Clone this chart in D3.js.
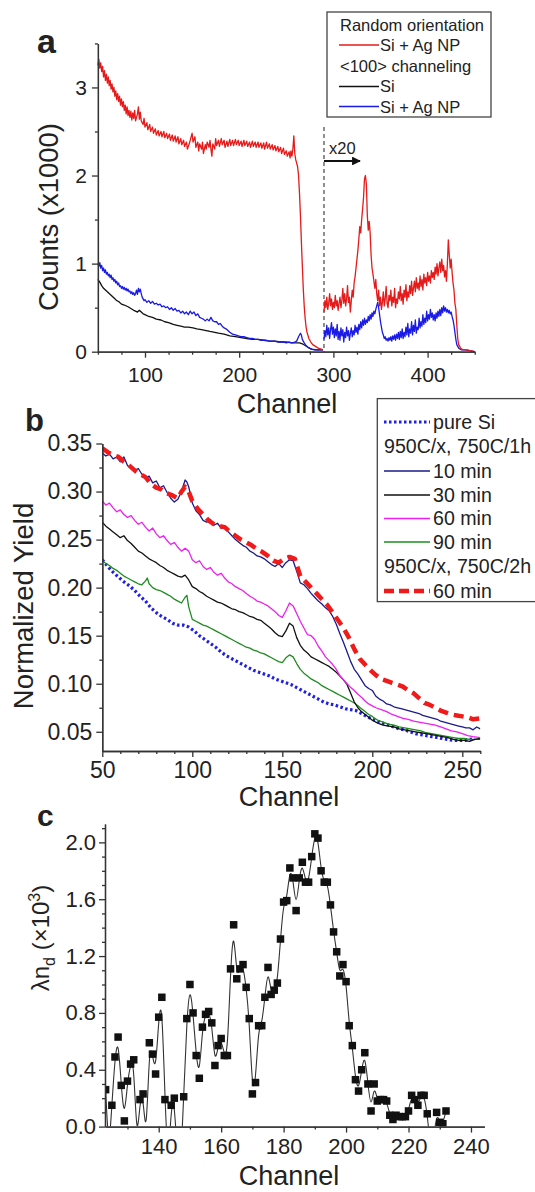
<!DOCTYPE html>
<html>
<head>
<meta charset="utf-8">
<script src="https://cdn.jsdelivr.net/npm/d3@7"></script>
<style>
body{margin:0;background:#fff;}
svg text{font-family:"Liberation Sans",Arial,sans-serif;fill:#222;}
.axis path,.axis line{stroke:#333;stroke-width:1.3;}
</style>
</head>
<body>
<svg id="fig" width="535" height="1192"></svg>
<script>
// ---------- panel a : RBS spectra, counts (x1000) vs channel ----------
var aRandomAgNP = [[50,3.25],[51,3.32],[52,3.22],[53,3.28],[54,3.18],[55,3.24],[56,3.12],[57,3.19],[58,3.08],[59,3.15],[60,3.05],[61,3.12],[62,3.02],[63,3.08],[64,2.98],[65,3.04],[66,2.95],[67,3.00],[68,2.90],[69,2.96],[70,2.86],[71,2.93],[72,2.84],[73,2.90],[74,2.80],[75,2.87],[76,2.78],[77,2.84],[78,2.74],[79,2.80],[80,2.70],[81,2.78],[82,2.68],[83,2.74],[84,2.66],[85,2.73],[86,2.63],[87,2.71],[88,2.65],[89,2.74],[90,2.62],[92,2.70],[93,2.78],[94,2.64],[95,2.72],[96,2.62],[98,2.58],[99,2.65],[100,2.55],[102,2.60],[103,2.52],[105,2.58],[106,2.50],[108,2.55],[109,2.48],[111,2.53],[112,2.46],[114,2.51],[115,2.45],[117,2.50],[118,2.44],[120,2.50],[121,2.43],[123,2.48],[124,2.42],[126,2.47],[127,2.40],[129,2.46],[130,2.39],[132,2.45],[133,2.38],[135,2.44],[136,2.36],[138,2.42],[139,2.35],[141,2.40],[142,2.33],[144,2.38],[145,2.30],[147,2.36],[148,2.40],[150,2.48],[151,2.38],[153,2.44],[154,2.32],[156,2.38],[157,2.28],[158,2.36],[160,2.30],[161,2.38],[162,2.25],[164,2.35],[165,2.30],[166,2.38],[168,2.32],[169,2.40],[170,2.30],[171,2.22],[172,2.36],[174,2.30],[175,2.42],[176,2.34],[178,2.40],[179,2.33],[181,2.42],[182,2.35],[184,2.40],[185,2.32],[187,2.39],[188,2.33],[190,2.41],[191,2.34],[193,2.40],[194,2.34],[196,2.41],[197,2.35],[199,2.40],[200,2.34],[202,2.39],[203,2.33],[205,2.40],[206,2.34],[208,2.39],[209,2.33],[211,2.38],[212,2.32],[214,2.39],[215,2.33],[217,2.38],[218,2.32],[220,2.38],[221,2.32],[223,2.37],[224,2.31],[226,2.37],[227,2.30],[229,2.38],[230,2.31],[232,2.36],[233,2.30],[235,2.35],[236,2.29],[238,2.34],[239,2.28],[241,2.33],[242,2.27],[244,2.32],[245,2.25],[247,2.31],[248,2.24],[250,2.28],[251,2.22],[253,2.27],[254,2.20],[255,2.28],[256,2.22],[257,2.30],[258,2.45],[259,2.25],[260,2.18],[261,2.14],[262,2.10],[263,2.00],[264,1.80],[265,1.55],[266,1.25],[267,0.98],[268,0.72],[269,0.52],[270,0.38],[271,0.28],[272,0.22],[274,0.15],[276,0.11],[278,0.08],[281,0.06],[284,0.04],[287,0.03],[289,0.02]];
var aRandomAgNPx20 = [[290,0.45],[291,0.58],[292,0.50],[293,0.62],[294,0.48],[295,0.55],[296,0.66],[297,0.52],[298,0.60],[299,0.48],[300,0.56],[301,0.50],[302,0.64],[303,0.52],[304,0.58],[305,0.47],[306,0.55],[307,0.62],[308,0.50],[309,0.58],[310,0.72],[311,0.55],[312,0.66],[313,0.52],[314,0.60],[315,0.75],[316,0.56],[317,0.62],[318,0.45],[319,0.58],[320,0.70],[321,0.62],[322,0.78],[323,0.85],[324,0.95],[325,1.05],[326,1.15],[327,1.28],[328,1.42],[329,1.35],[330,1.50],[331,1.62],[332,1.75],[333,1.96],[334,2.00],[335,1.90],[336,1.55],[337,1.38],[338,1.48],[339,1.35],[340,1.10],[341,0.95],[342,0.88],[343,0.80],[344,0.72],[345,0.82],[346,0.66],[347,0.58],[348,0.70],[349,0.52],[350,0.62],[351,0.48],[352,0.56],[353,0.68],[354,0.52],[355,0.60],[356,0.74],[357,0.55],[358,0.50],[359,0.64],[360,0.58],[361,0.70],[362,0.52],[363,0.62],[364,0.56],[365,0.72],[366,0.50],[367,0.60],[368,0.55],[369,0.68],[370,0.60],[371,0.74],[372,0.58],[373,0.66],[374,0.54],[375,0.70],[376,0.62],[377,0.76],[378,0.58],[379,0.68],[380,0.62],[381,0.75],[382,0.66],[383,0.80],[384,0.64],[385,0.72],[386,0.80],[387,0.68],[388,0.84],[389,0.72],[390,0.78],[391,0.70],[392,0.86],[393,0.74],[394,0.82],[395,0.70],[396,0.88],[397,0.78],[398,0.84],[399,0.75],[400,0.90],[401,0.80],[402,0.86],[403,0.78],[404,0.92],[405,0.84],[406,0.90],[407,0.82],[408,0.96],[409,0.88],[410,1.00],[411,0.86],[412,0.95],[413,1.02],[414,0.90],[415,1.05],[416,0.92],[417,0.98],[418,0.85],[419,0.92],[420,0.80],[421,1.00],[422,1.27],[423,1.10],[424,0.95],[425,1.05],[426,0.90],[427,0.78],[428,0.70],[429,0.55],[430,0.48],[431,0.30],[432,0.15],[433,0.08],[435,0.04],[438,0.02],[442,0.02],[446,0.01],[450,0.0]];
var aChanSi = [[50,0.82],[52,0.79],[54,0.75],[56,0.72],[58,0.70],[60,0.68],[62,0.66],[64,0.64],[66,0.62],[68,0.60],[70,0.58],[72,0.57],[75,0.54],[78,0.53],[82,0.51],[85,0.49],[88,0.47],[90,0.46],[92,0.45],[94,0.47],[96,0.45],[98,0.43],[100,0.42],[104,0.40],[108,0.39],[112,0.37],[117,0.36],[121,0.34],[125,0.33],[130,0.31],[134,0.30],[138,0.29],[142,0.28],[146,0.28],[151,0.27],[155,0.26],[160,0.25],[165,0.24],[169,0.23],[174,0.22],[178,0.21],[184,0.20],[190,0.18],[196,0.17],[202,0.16],[208,0.15],[214,0.14],[220,0.14],[226,0.13],[232,0.12],[238,0.12],[244,0.11],[250,0.11],[256,0.10],[261,0.10],[264,0.10],[267,0.09],[270,0.07],[273,0.05],[277,0.03],[282,0.02],[289,0.02]];
var aChanAgNP = [[50,1.00],[51,0.97],[52,1.01],[53,0.95],[54,0.98],[55,0.92],[56,0.95],[57,0.90],[58,0.93],[59,0.88],[60,0.90],[61,0.86],[62,0.88],[63,0.84],[64,0.87],[65,0.82],[66,0.84],[67,0.80],[68,0.82],[69,0.78],[70,0.80],[71,0.76],[72,0.78],[73,0.74],[74,0.75],[75,0.72],[76,0.74],[77,0.71],[78,0.73],[79,0.70],[80,0.72],[81,0.69],[82,0.71],[83,0.68],[84,0.69],[85,0.66],[86,0.68],[87,0.65],[88,0.67],[89,0.64],[90,0.66],[91,0.70],[92,0.65],[93,0.72],[94,0.68],[95,0.71],[96,0.66],[97,0.62],[98,0.60],[99,0.58],[100,0.59],[102,0.56],[104,0.58],[106,0.55],[108,0.57],[110,0.54],[112,0.55],[114,0.53],[116,0.54],[118,0.51],[120,0.52],[122,0.50],[124,0.51],[126,0.48],[128,0.50],[130,0.47],[132,0.49],[134,0.46],[136,0.47],[138,0.44],[140,0.46],[142,0.43],[144,0.45],[146,0.42],[148,0.46],[150,0.43],[152,0.45],[154,0.41],[156,0.43],[158,0.39],[160,0.38],[162,0.37],[164,0.35],[166,0.37],[168,0.35],[170,0.39],[172,0.35],[174,0.34],[176,0.34],[178,0.31],[180,0.32],[182,0.29],[184,0.27],[186,0.26],[188,0.24],[190,0.22],[193,0.20],[196,0.19],[199,0.18],[202,0.17],[205,0.17],[208,0.16],[211,0.15],[214,0.15],[217,0.14],[220,0.14],[223,0.13],[226,0.13],[229,0.13],[232,0.12],[235,0.12],[238,0.12],[241,0.11],[244,0.11],[247,0.11],[250,0.10],[253,0.11],[256,0.10],[259,0.11],[261,0.12],[263,0.17],[265,0.21],[266,0.19],[267,0.14],[269,0.10],[271,0.07],[273,0.05],[276,0.03],[280,0.02],[285,0.02],[289,0.02]];
var aChanAgNPx20 = [[290,0.14],[291,0.24],[292,0.17],[293,0.30],[294,0.19],[295,0.27],[296,0.15],[297,0.25],[298,0.33],[299,0.20],[300,0.28],[301,0.16],[302,0.26],[303,0.18],[304,0.31],[305,0.14],[306,0.23],[307,0.13],[308,0.27],[309,0.18],[310,0.25],[311,0.11],[312,0.22],[313,0.16],[314,0.28],[315,0.18],[316,0.24],[317,0.13],[318,0.21],[319,0.27],[320,0.17],[321,0.24],[322,0.19],[323,0.30],[324,0.22],[325,0.28],[326,0.20],[327,0.31],[328,0.25],[329,0.34],[330,0.27],[331,0.36],[332,0.30],[333,0.38],[334,0.31],[335,0.36],[336,0.33],[337,0.40],[338,0.35],[339,0.42],[340,0.37],[341,0.44],[342,0.40],[343,0.46],[344,0.43],[345,0.48],[346,0.52],[347,0.56],[348,0.50],[349,0.42],[350,0.34],[351,0.28],[352,0.22],[353,0.19],[354,0.15],[355,0.17],[356,0.13],[357,0.15],[358,0.12],[359,0.16],[360,0.13],[361,0.17],[362,0.12],[363,0.18],[364,0.14],[365,0.19],[366,0.13],[367,0.20],[368,0.15],[369,0.22],[370,0.14],[371,0.23],[372,0.16],[373,0.26],[374,0.15],[375,0.22],[376,0.17],[377,0.28],[378,0.19],[379,0.32],[380,0.17],[381,0.26],[382,0.21],[383,0.34],[384,0.19],[385,0.30],[386,0.23],[387,0.36],[388,0.21],[389,0.28],[390,0.25],[391,0.38],[392,0.27],[393,0.34],[394,0.29],[395,0.42],[396,0.31],[397,0.38],[398,0.33],[399,0.46],[400,0.35],[401,0.42],[402,0.37],[403,0.48],[404,0.39],[405,0.44],[406,0.36],[407,0.42],[408,0.35],[409,0.44],[410,0.38],[411,0.46],[412,0.40],[413,0.48],[414,0.41],[415,0.50],[416,0.44],[417,0.52],[418,0.46],[419,0.50],[420,0.45],[421,0.48],[422,0.44],[423,0.47],[424,0.43],[425,0.45],[426,0.40],[427,0.36],[428,0.30],[429,0.22],[430,0.14],[431,0.08],[433,0.04],[436,0.02],[440,0.02],[446,0.01],[450,0.0]];
var aXMajor = [100,200,300,400];
var aXMinor = [50,75,125,150,175,225,250,275,325,350,375,425,450];
var aYMajor = [0,1,2,3];
var aYMinor = [0.5,1.5,2.5,3.5];
var aX20Channel = 290;

// ---------- panel b : normalized yield vs channel ----------
var bPureSi = [[50,.229],[53,.222],[56,.216],[59,.211],[62,.206],[65,.202],[68,.197],[71,.191],[74,.186],[77,.179],[80,.174],[83,.170],[86,.167],[89,.163],[92,.161],[95,.161],[98,.159],[101,.155],[104,.150],[107,.146],[110,.142],[113,.138],[116,.133],[119,.129],[122,.126],[125,.123],[128,.120],[131,.117],[134,.114],[137,.112],[140,.110],[143,.108],[146,.105],[149,.103],[152,.101],[155,.099],[158,.096],[161,.093],[164,.090],[167,.087],[170,.084],[173,.081],[176,.079],[179,.078],[182,.076],[185,.074],[188,.073],[191,.072],[194,.069],[197,.066],[200,.063],[203,.061],[206,.059],[209,.057],[212,.055],[215,.053],[218,.052],[221,.050],[224,.048],[227,.047],[230,.046],[233,.045],[236,.044],[239,.043],[242,.042],[245,.041],[248,.041],[251,.041],[254,.042],[257,.043]];
var b1h10 = [[50,.340],[52,.337],[54,.339],[56,.334],[58,.336],[60,.331],[62,.336],[64,.327],[66,.325],[68,.322],[70,.324],[72,.318],[74,.314],[76,.316],[78,.309],[80,.311],[82,.304],[84,.306],[86,.299],[88,.293],[90,.289],[92,.292],[94,.300],[96,.312],[97,.310],[98,.305],[100,.288],[102,.280],[104,.276],[106,.270],[108,.268],[110,.271],[112,.265],[114,.267],[116,.262],[118,.263],[120,.258],[122,.254],[124,.250],[126,.247],[128,.244],[130,.242],[132,.238],[134,.236],[136,.233],[138,.232],[140,.230],[142,.227],[144,.224],[146,.222],[148,.225],[150,.221],[152,.226],[154,.229],[156,.228],[158,.217],[160,.205],[162,.203],[164,.199],[166,.194],[168,.190],[170,.186],[172,.183],[174,.179],[176,.176],[178,.170],[180,.162],[182,.152],[184,.143],[186,.133],[188,.123],[190,.115],[192,.110],[194,.104],[196,.098],[198,.095],[200,.093],[202,.087],[204,.084],[206,.082],[208,.079],[210,.078],[212,.076],[214,.075],[216,.074],[218,.073],[220,.072],[222,.071],[224,.070],[226,.069],[228,.067],[230,.066],[232,.065],[234,.064],[236,.063],[238,.061],[240,.060],[242,.059],[244,.058],[246,.057],[248,.056],[250,.055],[252,.054],[254,.054],[256,.052],[258,.055],[260,.053]];
var b1h30 = [[50,.268],[52,.264],[54,.261],[56,.258],[58,.255],[60,.252],[62,.254],[64,.249],[66,.246],[68,.242],[70,.238],[72,.236],[74,.233],[76,.230],[78,.228],[80,.226],[82,.223],[84,.221],[86,.218],[88,.216],[90,.214],[92,.212],[94,.211],[96,.213],[98,.208],[100,.201],[102,.199],[104,.196],[106,.194],[108,.191],[110,.189],[112,.187],[114,.185],[116,.184],[118,.182],[120,.180],[122,.178],[124,.177],[126,.175],[128,.174],[130,.172],[132,.170],[134,.169],[136,.167],[138,.166],[140,.163],[142,.160],[144,.157],[146,.153],[148,.150],[150,.149],[152,.155],[154,.163],[156,.160],[158,.148],[160,.140],[162,.135],[164,.132],[166,.128],[168,.126],[170,.124],[172,.122],[174,.120],[176,.118],[178,.115],[180,.112],[182,.108],[184,.104],[186,.099],[188,.090],[190,.081],[192,.075],[194,.071],[196,.068],[198,.065],[200,.062],[203,.059],[206,.057],[209,.056],[212,.055],[215,.053],[218,.052],[221,.051],[224,.050],[227,.049],[230,.048],[233,.047],[236,.046],[239,.045],[242,.044],[245,.042],[248,.041],[251,.041],[254,.040],[257,.042],[260,.043]];
var b1h60 = [[50,.290],[52,.286],[54,.288],[56,.283],[58,.279],[60,.281],[62,.276],[64,.273],[66,.275],[68,.270],[70,.266],[72,.268],[74,.263],[76,.259],[78,.262],[80,.256],[82,.252],[84,.254],[86,.249],[88,.245],[90,.247],[92,.242],[94,.238],[96,.241],[98,.238],[100,.229],[102,.226],[104,.228],[106,.222],[108,.219],[110,.221],[112,.216],[114,.213],[116,.215],[118,.210],[120,.206],[122,.204],[124,.201],[126,.199],[128,.197],[130,.194],[132,.191],[134,.189],[136,.186],[138,.185],[140,.183],[142,.181],[144,.178],[146,.175],[148,.171],[150,.169],[152,.176],[154,.184],[156,.181],[158,.173],[160,.165],[162,.158],[164,.151],[166,.150],[168,.146],[170,.139],[172,.134],[174,.128],[176,.124],[178,.120],[180,.115],[182,.108],[184,.104],[186,.100],[188,.096],[190,.093],[192,.089],[194,.086],[196,.082],[198,.079],[200,.077],[202,.075],[205,.073],[208,.071],[211,.068],[214,.066],[217,.064],[220,.063],[223,.061],[226,.060],[229,.059],[232,.058],[235,.057],[238,.055],[241,.053],[244,.051],[247,.050],[250,.048],[253,.046],[256,.045],[260,.044]];
var b1h90 = [[50,.228],[52,.225],[54,.223],[56,.220],[58,.218],[60,.215],[62,.212],[64,.210],[66,.208],[68,.206],[70,.204],[72,.203],[74,.207],[75,.210],[76,.204],[78,.200],[80,.198],[82,.197],[84,.195],[86,.193],[88,.191],[90,.188],[92,.186],[94,.184],[96,.190],[97,.192],[98,.180],[100,.167],[102,.165],[104,.163],[106,.161],[108,.160],[110,.158],[112,.156],[114,.154],[116,.152],[118,.150],[120,.148],[122,.146],[124,.144],[126,.142],[128,.140],[130,.138],[132,.137],[134,.135],[136,.134],[138,.132],[140,.131],[142,.129],[144,.127],[146,.125],[148,.123],[150,.122],[152,.127],[154,.130],[156,.128],[158,.121],[160,.115],[162,.111],[164,.108],[166,.105],[168,.103],[170,.101],[172,.098],[174,.096],[176,.094],[178,.092],[180,.090],[182,.088],[184,.086],[186,.084],[188,.082],[190,.080],[192,.077],[194,.074],[196,.071],[198,.068],[200,.066],[203,.062],[206,.060],[209,.058],[212,.057],[215,.055],[218,.054],[221,.053],[224,.052],[227,.051],[230,.049],[233,.048],[236,.047],[239,.046],[242,.045],[245,.044],[248,.043],[251,.043],[254,.042],[257,.042],[260,.042]];
var b2h60 = [[50,.345],[53,.341],[56,.338],[59,.336],[62,.331],[65,.327],[68,.322],[71,.318],[74,.315],[77,.308],[80,.304],[83,.302],[86,.298],[89,.296],[92,.293],[94,.300],[96,.305],[98,.300],[100,.290],[103,.282],[106,.276],[109,.270],[112,.266],[115,.264],[118,.263],[121,.258],[124,.254],[127,.250],[130,.247],[133,.244],[136,.240],[139,.237],[142,.233],[145,.228],[148,.226],[151,.230],[154,.232],[157,.230],[160,.212],[163,.206],[166,.200],[169,.194],[172,.188],[175,.182],[178,.174],[181,.166],[184,.158],[187,.148],[190,.136],[193,.126],[196,.120],[199,.114],[202,.109],[205,.105],[208,.103],[211,.101],[214,.099],[217,.097],[220,.093],[223,.090],[226,.085],[229,.080],[232,.078],[235,.075],[238,.072],[241,.070],[244,.068],[247,.067],[250,.066],[253,.065],[256,.063],[260,.064]];
var bXMajor = [50,100,150,200,250];
var bXMinor = [60,70,80,90,110,120,130,140,160,170,180,190,210,220,230,240,260];
var bYMajor = [0.05,0.10,0.15,0.20,0.25,0.30,0.35];
var bYMinor = [0.075,0.125,0.175,0.225,0.275,0.325];

// ---------- panel c : lambda n_d vs channel ----------
var cChannel = [123,124,125,126,127,128,129,130,131,132,133,134,135,136,137,138,139,140,141,142,143,144,145,146,147,148,149,150,151,152,153,154,155,156,157,158,159,160,161,162,163,164,165,166,167,168,169,170,171,172,173,174,175,176,177,178,179,180,181,182,183,184,185,186,187,188,189,190,191,192,193,194,195,196,197,198,199,200,201,202,203,204,205,206,207,208,209,210,211,212,213,214,215,216,217,218,219,220,221,222,223,224,225,226,227,228,229,230,231,232];
var cValue = [0.26,-0.20,0.15,0.49,0.63,0.29,0.04,0.32,0.44,0.47,-0.14,0.19,0.23,-0.13,0.59,0.51,0.37,0.77,0.91,0.19,-0.30,0.15,0.20,-0.25,-0.30,0.21,0.76,1.00,0.80,0.50,0.34,0.70,0.79,0.81,0.73,0.43,0.57,0.62,0.50,0.50,1.11,1.42,1.04,1.11,1.14,0.98,0.76,0.23,0.31,0.71,0.71,0.91,1.12,0.93,0.96,1.01,1.32,1.58,1.59,1.82,1.75,1.52,1.75,1.86,1.72,1.72,1.90,2.06,2.03,1.80,1.72,1.72,1.56,1.37,1.23,1.06,1.14,1.02,0.71,0.57,0.33,0.25,0.40,0.52,0.30,0.11,0.30,0.18,0.19,0.19,0.18,0.08,0.05,0.08,0.07,0.07,0.07,0.11,0.22,0.19,0.15,0.22,0.22,0.09,-0.15,-0.10,0.10,0.03,0.02,0.11];
var cXMajor = [140,160,180,200,220,240];
var cXMinor = [130,150,170,190,210,230];
var cYMajor = [0,0.4,0.8,1.2,1.6,2.0];
var cYMinor = [0.1,0.2,0.3,0.5,0.6,0.7,0.9,1.0,1.1,1.3,1.4,1.5,1.7,1.8,1.9,2.1];

var svg = d3.select("#fig");

function drawAxes(x, y, xMajor, xMinor, yMajor, yMinor, xFmt, yFmt, fs, xPad, yPad) {
  var y0 = y.range()[0], x0 = x.range()[0];
  svg.append("g").attr("class","axis").attr("transform","translate(0,"+y0+")")
    .call(d3.axisBottom(x).tickValues(xMinor).tickSize(3).tickSizeOuter(0).tickFormat(""));
  var gx = svg.append("g").attr("class","axis").attr("transform","translate(0,"+y0+")")
    .call(d3.axisBottom(x).tickValues(xMajor).tickSize(6).tickSizeOuter(0).tickPadding(xPad).tickFormat(xFmt));
  svg.append("g").attr("class","axis").attr("transform","translate("+x0+",0)")
    .call(d3.axisLeft(y).tickValues(yMinor).tickSize(3).tickSizeOuter(0).tickFormat(""));
  var gy = svg.append("g").attr("class","axis").attr("transform","translate("+x0+",0)")
    .call(d3.axisLeft(y).tickValues(yMajor).tickSize(6).tickSizeOuter(0).tickPadding(yPad).tickFormat(yFmt));
  gx.selectAll("text").style("font-size",fs+"px").attr("fill","#222");
  gy.selectAll("text").style("font-size",fs+"px").attr("fill","#222");
}

function clipFor(id, x, y) {
  svg.append("clipPath").attr("id",id).append("rect")
    .attr("x",x.range()[0]).attr("y",y.range()[1])
    .attr("width",x.range()[1]-x.range()[0]).attr("height",y.range()[0]-y.range()[1]);
}

// ================= panel a =================
var xa = d3.scaleLinear().domain([50,450]).range([97.9,474.7]);
var ya = d3.scaleLinear().domain([0,3.5]).range([351.7,43.4]);
var lineA = d3.line().x(function(d){return xa(d[0]);}).y(function(d){return ya(d[1]);});

svg.append("line").attr("x1",xa(aX20Channel)).attr("x2",xa(aX20Channel))
  .attr("y1",127).attr("y2",ya(0)).attr("stroke","#555").attr("stroke-width",1.3)
  .attr("stroke-dasharray","4,3");

[[aChanSi,"#111"],[aChanAgNP,"#1a1ae6"],[aChanAgNPx20,"#1a1ae6"],[aRandomAgNP,"#e61a1a"],[aRandomAgNPx20,"#e61a1a"]]
  .forEach(function(s){
    svg.append("path").datum(s[0]).attr("d",lineA).attr("fill","none")
      .attr("stroke",s[1]).attr("stroke-width",1.3).attr("stroke-linejoin","round");
  });

drawAxes(xa, ya, aXMajor, aXMinor, aYMajor, aYMinor, d3.format("d"), d3.format("d"), 21, 9, 5);

// x20 marker
svg.append("defs").append("marker").attr("id","arr").attr("viewBox","0 0 10 10")
  .attr("refX",9).attr("refY",5).attr("markerWidth",4).attr("markerHeight",4).attr("orient","auto")
  .append("path").attr("d","M0,0L10,5L0,10z").attr("fill","#111");
svg.append("line").attr("x1",xa(aX20Channel)).attr("x2",360).attr("y1",161).attr("y2",161)
  .attr("stroke","#111").attr("stroke-width",2.2).attr("marker-end","url(#arr)");
svg.append("text").attr("x",329).attr("y",154).style("font-size","16.5px").text("x20");

svg.append("text").attr("x",37).attr("y",52.5).style("font-size","34px").style("font-weight","bold").attr("fill","#111").text("a");
svg.append("text").attr("x",287).attr("y",413).attr("text-anchor","middle").style("font-size","27px").text("Channel");
svg.append("text").attr("transform","translate(58,217) rotate(-90)").attr("text-anchor","middle").style("font-size","27.5px").text("Counts (x1000)");

// legend a
var lgA = svg.append("g");
lgA.append("rect").attr("x",327).attr("y",12).attr("width",164).attr("height",105)
  .attr("fill","#fff").attr("stroke","#444").attr("stroke-width",1.3);
var lgAItems = [
  {t:"Random orientation", y:30.5, x:340},
  {t:"Si + Ag NP", y:51, x:380, c:"#e61a1a", ly:45},
  {t:"<100> channeling", y:71.5, x:340},
  {t:"Si", y:92, x:380, c:"#111", ly:86.5},
  {t:"Si + Ag NP", y:112.5, x:380, c:"#1a1ae6", ly:106.5}
];
lgAItems.forEach(function(d){
  if (d.c) lgA.append("line").attr("x1",339).attr("x2",379).attr("y1",d.ly).attr("y2",d.ly)
    .attr("stroke",d.c).attr("stroke-width",1.5);
  lgA.append("text").attr("x",d.x).attr("y",d.y).style("font-size","16.5px").text(d.t);
});

// ================= panel b =================
var xb = d3.scaleLinear().domain([50,260]).range([102.3,480.3]);
var yb = d3.scaleLinear().domain([0.03,0.35]).range([751,443.5]);
var lineB = d3.line().x(function(d){return xb(d[0]);}).y(function(d){return yb(d[1]);});
clipFor("clipB", xb, yb);

var bSeries = [
  {d:bPureSi, c:"#1f1fe6", w:3.2, dash:"2.5,2.5"},
  {d:b1h90, c:"#1e8c1e", w:1.3},
  {d:b1h30, c:"#111", w:1.3},
  {d:b1h60, c:"#f01ef0", w:1.3},
  {d:b1h10, c:"#1a1a8c", w:1.3},
  {d:b2h60, c:"#f01a1a", w:4.5, dash:"10,6"}
];
bSeries.forEach(function(s){
  svg.append("path").datum(s.d).attr("d",lineB).attr("fill","none").attr("clip-path","url(#clipB)")
    .attr("stroke",s.c).attr("stroke-width",s.w).attr("stroke-dasharray",s.dash||null)
    .attr("stroke-linejoin","round");
});

drawAxes(xb, yb, bXMajor, bXMinor, bYMajor, bYMinor, d3.format("d"), d3.format(".2f"), 23, 5, 4);

svg.append("text").attr("x",25).attr("y",430.5).style("font-size","31px").style("font-weight","bold").attr("fill","#111").text("b");
svg.append("text").attr("x",289).attr("y",806).attr("text-anchor","middle").style("font-size","27px").text("Channel");
svg.append("text").attr("transform","translate(33,606) rotate(-90)").attr("text-anchor","middle").style("font-size","27.5px").text("Normalized Yield");

// legend b
var lgB = svg.append("g");
lgB.append("rect").attr("x",377.3).attr("y",398.6).attr("width",170).attr("height",203)
  .attr("fill","#fff").attr("stroke","#444").attr("stroke-width",1.3);
var lgBItems = [
  {t:"pure Si", y:429, x:433, c:"#1f1fe6", ly:422, w:3.2, dash:"2.5,2.5"},
  {t:"950C/x, 750C/1h", y:453, x:384},
  {t:"10 min", y:477.5, x:433, c:"#1a1a8c", ly:471, w:1.5},
  {t:"30 min", y:501.5, x:433, c:"#111", ly:495, w:1.5},
  {t:"60 min", y:525, x:433, c:"#f01ef0", ly:518.5, w:1.5},
  {t:"90 min", y:548.5, x:433, c:"#1e8c1e", ly:542, w:1.5},
  {t:"950C/x, 750C/2h", y:573, x:384},
  {t:"60 min", y:597.5, x:433, c:"#f01a1a", ly:591, w:4.5, dash:"10,5"}
];
lgBItems.forEach(function(d){
  if (d.c) lgB.append("line").attr("x1",384).attr("x2",430).attr("y1",d.ly).attr("y2",d.ly)
    .attr("stroke",d.c).attr("stroke-width",d.w).attr("stroke-dasharray",d.dash||null);
  lgB.append("text").attr("x",d.x).attr("y",d.y).style("font-size","19.6px").text(d.t);
});

// ================= panel c =================
var xc = d3.scaleLinear().domain([122.8,244.3]).range([105,484.4]);
var yc = d3.scaleLinear().domain([0,2.13]).range([1126.6,823.9]);
clipFor("clipC", xc, yc);
var cData = cChannel.map(function(ch,i){return [ch, cValue[i]];});
var lineC = d3.line().curve(d3.curveBasis).x(function(d){return xc(d[0]);}).y(function(d){return yc(d[1]);});

svg.append("path").datum(cData).attr("d",lineC).attr("fill","none").attr("clip-path","url(#clipC)")
  .attr("stroke","#333").attr("stroke-width",1.1);
svg.append("g").attr("clip-path","url(#clipC)").selectAll("rect.pt")
  .data(cData.filter(function(d){return d[1] >= 0;})).enter().append("rect")
  .attr("x",function(d){return xc(d[0])-3.75;}).attr("y",function(d){return yc(d[1])-3.75;})
  .attr("width",7.5).attr("height",7.5).attr("fill","#111");

drawAxes(xc, yc, cXMajor, cXMinor, cYMajor, cYMinor, d3.format("d"), d3.format(".1f"), 22, 6, 3);

svg.append("text").attr("x",37).attr("y",826).style("font-size","30px").style("font-weight","bold").attr("fill","#111").text("c");
svg.append("text").attr("x",289).attr("y",1185).attr("text-anchor","middle").style("font-size","27px").text("Channel");
var yl = svg.append("text").attr("transform","translate(49,938) rotate(-90)").attr("text-anchor","middle").style("font-size","24px");
yl.append("tspan").text("\u03bbn");
yl.append("tspan").attr("dy",6).style("font-size","16px").text("d");
yl.append("tspan").attr("dy",-6).text(" (\u00d710");
yl.append("tspan").attr("dy",-9).style("font-size","16px").text("3");
yl.append("tspan").attr("dy",9).text(")");
</script>
</body>
</html>
